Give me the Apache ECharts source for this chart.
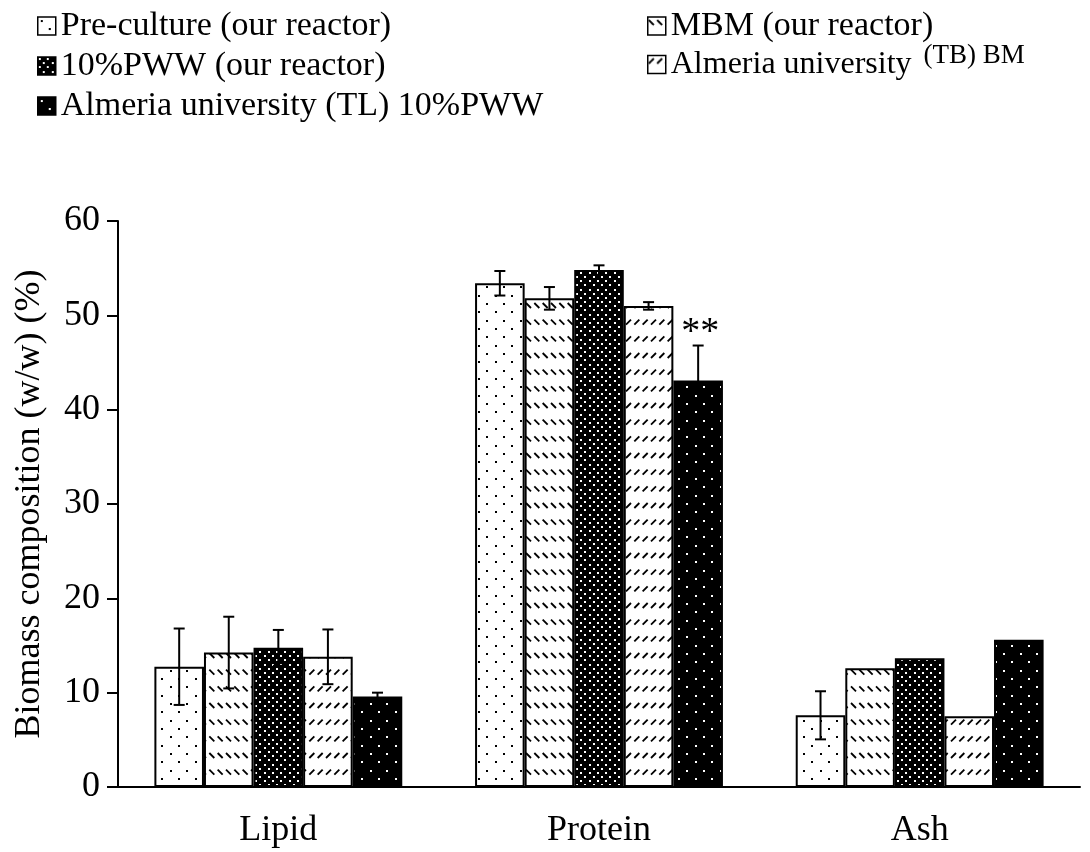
<!DOCTYPE html>
<html>
<head>
<meta charset="utf-8">
<script src="https://cdn.jsdelivr.net/npm/echarts@6/dist/echarts.min.js"></script>
<style>
  html, body { margin: 0; padding: 0; background: #fff; }
  #chart { width: 1090px; height: 852px; }
</style>
</head>
<body>
<div id="chart"></div>
<script>
// Biomass composition by fraction and cultivation condition
const categories = ['Lipid', 'Protein', 'Ash'];
const seriesNames = [
  'Pre-culture (our reactor)',
  'MBM (our reactor)',
  '10%PWW (our reactor)',
  'Almeria university (TB) BM',
  'Almeria university (TL) 10%PWW'
];
const preCulture    = [12.75, 53.4, 7.6];
const preCultureErr = [4.05, 1.3, 2.55];
const mbm           = [14.25, 51.8, 12.6];
const mbmErr        = [3.8, 1.2, 0];
const pww           = [14.75, 54.8, 13.65];
const pwwErr        = [1.9, 0.5, 0];
const almeriaTB     = [13.8, 51.0, 7.5];
const almeriaTBErr  = [2.9, 0.4, 0];
const almeriaTL     = [9.6, 43.1, 15.6];
const almeriaTLErr  = [0.4, 3.7, 0];
const almeriaTLNote = ['', '**', ''];
const yTicks = [0, 10, 20, 30, 40, 50, 60];

const seriesValues = [preCulture, mbm, pww, almeriaTB, almeriaTL];
const seriesErrors = [preCultureErr, mbmErr, pwwErr, almeriaTBErr, almeriaTLErr];
const seriesNotes  = [null, null, null, null, almeriaTLNote];

const FONT = '"Liberation Serif", "Times New Roman", serif';
const CAT_GAP = 0.227;

// ---- fill patterns (50px tiles) ----
function tile(bg, draw) {
  const c = document.createElement('canvas');
  c.width = 50; c.height = 50;
  const g = c.getContext('2d');
  g.fillStyle = bg;
  g.fillRect(0, 0, 50, 50);
  draw(g);
  return { image: c, repeat: 'repeat' };
}
const P = 50 / 3;      // large period
const Q = 50 / 6;      // small period

// sparse staggered dots
function sparseDots(colour) {
  return function (g) {
    g.fillStyle = colour;
    for (let j = 0; j < 3; j++) {
      for (let i = 0; i < 3; i++) {
        g.fillRect(Math.round(i * P + 3), Math.round(j * P + 3), 2, 2);
        g.fillRect(Math.round(i * P + 3 + P / 2), Math.round(j * P + 3 + P / 2), 2, 2);
      }
    }
  };
}
// dense staggered dots
function denseDots(colour) {
  return function (g) {
    g.fillStyle = colour;
    for (let k = 0; k < 12; k++) {
      const off = (k % 2) * (Q / 2);
      for (let m = 0; m < 6; m++) {
        g.fillRect(Math.round(m * Q + off + 1), Math.round(k * (Q / 2) + 1), 2, 2);
      }
    }
  };
}
// rows of short diagonal dashes
function dashRows(dir) {
  return function (g) {
    g.strokeStyle = '#000';
    g.lineWidth = 1.8;
    for (let j = 0; j < 3; j++) {
      for (let i = -1; i < 7; i++) {
        const x0 = i * Q + 1, y0 = j * P + 3;
        g.beginPath();
        if (dir > 0) { g.moveTo(x0, y0 + 5); g.lineTo(x0 + 5, y0); }
        else { g.moveTo(x0, y0); g.lineTo(x0 + 5, y0 + 5); }
        g.stroke();
      }
    }
  };
}

const fills = [
  tile('#fff', sparseDots('#000')),
  tile('#fff', dashRows(-1)),
  tile('#000', denseDots('#fff')),
  tile('#fff', dashRows(1)),
  tile('#000', sparseDots('#fff'))
];

// ---- bar series ----
const barSeries = seriesNames.map(function (name, s) {
  return {
    name: name,
    type: 'bar',
    barGap: '0%',
    barCategoryGap: (CAT_GAP * 100) + '%',
    itemStyle: { color: fills[s], borderColor: '#000', borderWidth: 2 },
    emphasis: { disabled: true },
    data: seriesValues[s]
  };
});

// ---- error bars with annotations ----
const errRows = [];
seriesValues.forEach(function (vals, s) {
  vals.forEach(function (v, c) {
    errRows.push({ value: [c, v, seriesErrors[s][c], s], note: seriesNotes[s] ? seriesNotes[s][c] : '' });
  });
});

function renderErr(params, api) {
  const row = errRows[params.dataIndex];
  const cat = api.value(0), mean = api.value(1), err = api.value(2), s = api.value(3);
  const n = seriesNames.length;
  const band = api.size([1, 0])[0];
  const bw = band * (1 - CAT_GAP) / n;
  const base = api.coord([cat, mean]);
  const x = base[0] + (s - (n - 1) / 2) * bw;
  const children = [];
  let topY = base[1];
  if (err > 0) {
    const yTop = api.coord([cat, mean + err])[1];
    const yBot = api.coord([cat, mean - err])[1];
    topY = yTop;
    const st = { stroke: '#000', lineWidth: 2 };
    children.push({ type: 'line', shape: { x1: x, y1: yTop, x2: x, y2: yBot }, style: st });
    children.push({ type: 'line', shape: { x1: x - 5.5, y1: yTop, x2: x + 5.5, y2: yTop }, style: st });
    children.push({ type: 'line', shape: { x1: x - 5.5, y1: yBot, x2: x + 5.5, y2: yBot }, style: st });
  }
  if (row.note) {
    children.push({
      type: 'text',
      style: {
        x: x + 2, y: topY + 6, text: row.note, align: 'center', verticalAlign: 'bottom',
        fontFamily: FONT, fontSize: 38, fill: '#000'
      }
    });
  }
  return { type: 'group', children: children };
}

const legendText = { fontFamily: FONT, fontSize: 34, color: '#000', lineHeight: 36,
  rich: {
    big: { fontFamily: FONT, fontSize: 32, color: '#000' },
    small: { fontFamily: FONT, fontSize: 27, color: '#000', padding: [0, 0, 18, 12] }
  }
};
const legendCommon = {
  orient: 'vertical', icon: 'rect', itemWidth: 18, itemHeight: 18, itemGap: 4,
  selectedMode: false, textStyle: legendText,
  itemStyle: { borderColor: '#000', borderWidth: 1.5 }
};

const chart = echarts.init(document.getElementById('chart'), null, { renderer: 'canvas' });
chart.setOption({
  animation: false,
  backgroundColor: '#fff',
  legend: [
    Object.assign({}, legendCommon, { left: 32, top: 3, data: [seriesNames[0], seriesNames[2], seriesNames[4]] }),
    Object.assign({}, legendCommon, { left: 642, top: 3, data: [seriesNames[1]] }),
    Object.assign({}, legendCommon, {
      left: 642, top: 37, data: [seriesNames[3]],
      formatter: function (name) {
        const m = name.match(/^(Almeria university) (\(TB\) BM)$/);
        return m ? '{big|' + m[1] + '}{small|' + m[2] + '}' : name;
      }
    })
  ],
  grid: { left: 118, right: 10, top: 221, bottom: 65, outerBoundsMode: 'none', containLabel: false },
  xAxis: {
    type: 'category',
    data: categories,
    axisLine: { lineStyle: { color: '#000', width: 2 } },
    axisTick: { show: false },
    axisLabel: { color: '#000', fontFamily: FONT, fontSize: 36, margin: 26 }
  },
  yAxis: {
    type: 'value',
    min: yTicks[0],
    max: yTicks[yTicks.length - 1],
    interval: yTicks[1] - yTicks[0],
    name: 'Biomass composition (w/w) (%)',
    nameLocation: 'middle',
    nameRotate: 90,
    nameGap: 70,
    nameTextStyle: { color: '#000', fontFamily: FONT, fontSize: 36 },
    axisLine: { show: true, lineStyle: { color: '#000', width: 2 } },
    axisTick: { show: true, length: 11, lineStyle: { color: '#000', width: 2 } },
    axisLabel: { color: '#000', fontFamily: FONT, fontSize: 36, margin: 18 },
    splitLine: { show: false }
  },
  series: barSeries.concat([{
    type: 'custom',
    renderItem: renderErr,
    encode: { x: 0, y: 1 },
    z: 10,
    silent: true,
    data: errRows.map(function (r) { return r.value; })
  }])
});
</script>
</body>
</html>
